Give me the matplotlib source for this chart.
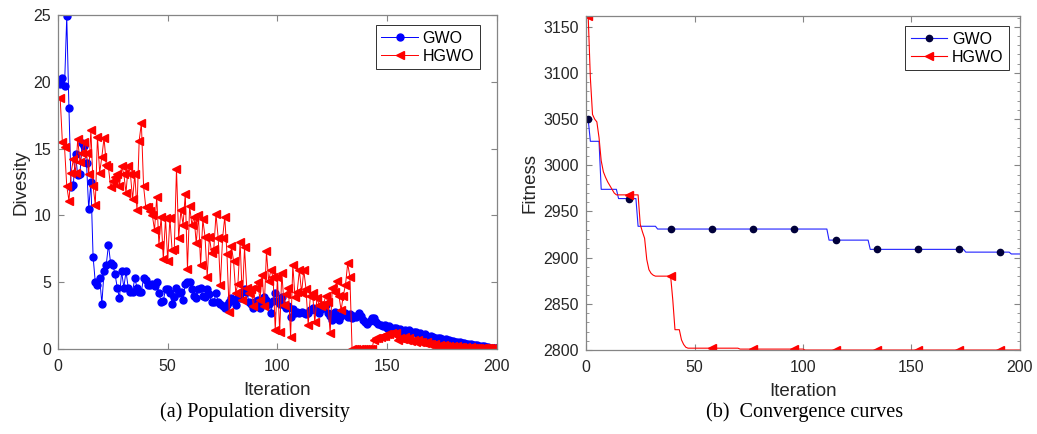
import numpy as np
import matplotlib.pyplot as plt
from matplotlib.ticker import MultipleLocator

plt.rcParams['font.family'] = ['Liberation Sans', 'DejaVu Sans']

iters = np.arange(1, 201)

# (a) population diversity, one value per iteration
gwo_div = [19.8, 20.3, 19.7, 24.9, 18.0, 12.1, 12.3, 14.6, 13.0, 13.1,
           15.4, 15.2, 13.9, 10.5, 12.5, 6.9, 5.0, 4.8, 5.3, 3.4,
           5.8, 6.3, 7.8, 6.4, 6.3, 5.6, 4.6, 3.8, 5.8, 4.6,
           5.8, 4.6, 4.3, 4.3, 5.3, 4.6, 4.3, 4.3, 5.3, 5.2,
           4.8, 4.8, 4.9, 4.7, 5.0, 4.2, 3.5, 3.6, 4.5, 4.5,
           4.2, 3.4, 3.9, 4.6, 4.2, 4.3, 3.7, 4.9, 5.0, 5.0,
           4.5, 4.0, 3.8, 4.5, 4.6, 4.0, 3.9, 4.5, 4.1, 3.5,
           3.5, 4.2, 3.5, 3.4, 3.2, 3.1, 3.3, 3.5, 3.8, 3.7,
           3.3, 3.9, 3.8, 4.3, 4.5, 4.3, 3.5, 3.4, 3.1, 3.6,
           3.7, 3.1, 3.5, 3.9, 3.7, 3.4, 2.7, 3.6, 4.2, 3.6,
           3.4, 3.9, 3.3, 3.1, 3.2, 2.4, 3.0, 2.7, 2.8, 2.7,
           2.8, 2.7, 2.6, 2.7, 2.9, 3.1, 2.9, 3.0, 2.7, 3.0,
           3.1, 3.3, 2.7, 2.5, 2.2, 2.8, 2.5, 2.2, 2.5, 2.7,
           2.7, 2.4, 2.6, 2.3, 2.5, 2.4, 2.7, 2.5, 2.2, 2.0,
           1.9, 2.1, 2.3, 2.3, 2.0, 1.9, 1.8, 1.7, 1.8, 1.6,
           1.7, 1.5, 1.6, 1.6, 1.4, 1.5, 1.3, 1.4, 1.3, 1.4,
           1.2, 1.3, 1.3, 1.1, 1.2, 1.0, 1.1, 1.0, 0.9, 1.0,
           0.9, 0.85, 0.8, 0.85, 0.75, 0.7, 0.75, 0.65, 0.6, 0.6,
           0.55, 0.5, 0.55, 0.45, 0.45, 0.4, 0.4, 0.35, 0.3, 0.32,
           0.28, 0.25, 0.22, 0.2, 0.17, 0.14, 0.11, 0.09, 0.07, 0.05]

hgwo_div = [18.8, 15.5, 15.1, 12.2, 11.1, 13.2, 14.2, 13.2, 15.7, 14.0,
            14.7, 15.5, 14.7, 13.1, 16.4, 12.2, 10.8, 15.9, 13.2, 14.4,
            15.8, 13.8, 13.6, 12.1, 12.6, 12.9, 13.1, 12.2, 13.7, 13.1,
            11.7, 13.7, 13.1, 11.2, 13.1, 10.4, 15.6, 16.9, 12.2, 10.6,
            10.6, 10.3, 10.0, 8.9, 11.4, 7.8, 9.9, 6.7, 9.8, 6.6,
            9.8, 7.4, 7.5, 13.5, 8.3, 10.4, 9.3, 11.6, 6.0, 10.7,
            9.3, 9.9, 7.9, 10.0, 6.3, 9.7, 8.4, 5.4, 8.4, 7.2,
            7.5, 10.1, 8.3, 4.8, 8.3, 9.9, 7.1, 2.8, 7.7, 6.6,
            4.2, 4.9, 8.0, 3.7, 7.6, 4.6, 4.2, 4.5, 3.2, 4.6,
            5.0, 3.7, 5.5, 3.2, 7.3, 5.1, 5.9, 5.4, 1.4, 5.4,
            1.3, 5.7, 3.3, 4.1, 4.6, 0.9, 6.3, 3.9, 4.3, 5.9,
            4.2, 5.9, 4.5, 1.8, 4.0, 4.2, 2.0, 3.8, 3.3, 3.2,
            3.3, 4.0, 3.5, 1.2, 4.6, 4.3, 5.1, 4.0, 2.9, 4.0,
            4.8, 6.4, 5.4, 0.0, 0.0, 0.0, 0.0, 0.0, 0.0, 0.0,
            0.0, 0.0, 0.0, 0.7, 0.8, 0.85, 0.9, 1.0, 1.0, 1.1,
            1.1, 1.2, 1.1, 1.2, 0.7, 0.8, 0.75, 0.9, 0.7, 0.85,
            0.6, 0.7, 0.55, 0.65, 0.5, 0.55, 0.45, 0.5, 0.35, 0.4,
            0.3, 0.35, 0.25, 0.3, 0.2, 0.28, 0.2, 0.25, 0.15, 0.22,
            0.15, 0.2, 0.12, 0.18, 0.1, 0.15, 0.1, 0.12, 0.08, 0.1,
            0.08, 0.1, 0.06, 0.08, 0.05, 0.06, 0.04, 0.05, 0.03, 0.03]

# (b) convergence curves: best fitness levels and how many iterations each lasts
gwo_fit_levels = [3050, 3026, 2974, 2964, 2934, 2931, 2919, 2909, 2906, 2904]
gwo_fit_runs = [1, 5, 8, 9, 9, 79, 19, 44, 21, 5]
hgwo_fit_levels = [3162, 3095, 3055, 3050, 3047, 3030, 3005, 2993, 2987, 2982,
                   2978, 2974, 2970, 2968, 2936, 2928, 2921, 2898, 2887, 2883,
                   2881, 2880, 2854, 2822, 2811, 2806, 2803, 2802, 2801, 2800]
hgwo_fit_runs = [1, 1, 1, 1, 1, 1, 1, 1, 1, 1,
                 1, 1, 1, 11, 1, 1, 1, 1, 1, 1,
                 1, 8, 1, 3, 1, 1, 1, 24, 30, 100]

gwo_fit = np.repeat(gwo_fit_levels, gwo_fit_runs)
hgwo_fit = np.repeat(hgwo_fit_levels, hgwo_fit_runs)

fig = plt.figure(figsize=(10.37, 4.34), dpi=100)
ax1 = fig.add_axes([0.0559, 0.1959, 0.4233, 0.7696])
ax2 = fig.add_axes([0.5651, 0.1935, 0.4185, 0.7703])

for ax in (ax1, ax2):
    for s in ax.spines.values():
        s.set_color('#858585')
        s.set_linewidth(0.9)
    ax.tick_params(direction='in', top=True, right=True, labelsize=11.5,
                   color='#858585', labelcolor='#262626', length=4, pad=5)
    ax.tick_params(axis='x', pad=7)
    ax.set_xlim(0, 200)
    ax.xaxis.set_major_locator(MultipleLocator(50))
    ax.set_xlabel('Iteration', fontsize=13.5, color='#262626', labelpad=6)

ax1.plot(iters, gwo_div, color='#0000ff', lw=0.7, marker='o', ms=5,
         mfc='#0000ff', mec='#0000ff', label='GWO')
ax1.plot(iters, hgwo_div, color='#ff0000', lw=0.7, marker='<', ms=5.5,
         mfc='#ff0000', mec='#ff0000', label='HGWO')
ax1.set_ylim(0, 25)
ax1.yaxis.set_major_locator(MultipleLocator(5))
ax1.set_ylabel('Divesity', fontsize=13.5, color='#262626', labelpad=3)
leg1 = ax1.legend(loc='upper right', bbox_to_anchor=(0.961, 0.970),
                  fancybox=False, edgecolor='#303030', framealpha=1,
                  fontsize=11.5, handlelength=2.3, borderpad=0.35,
                  labelspacing=0.2, handletextpad=0.3, borderaxespad=0)
leg1.get_frame().set_linewidth(0.7)

ax2.plot(iters, gwo_fit, color='#2020ff', lw=0.8, marker='o', ms=4.5,
         mfc='#00003a', mec='#00003a', markevery=19, label='GWO')
ax2.plot(iters, hgwo_fit, color='#ff0000', lw=0.8, marker='<', ms=5.5,
         mfc='#ff0000', mec='#ff0000', markevery=19, label='HGWO')
ax2.set_ylim(2800, 3162)
ax2.yaxis.set_major_locator(MultipleLocator(50))
ax2.yaxis.set_minor_locator(MultipleLocator(10))
ax2.tick_params(axis='y', which='minor', direction='in', left=True, right=True,
                length=2, color='#858585')
ax2.set_ylabel('Fitness', fontsize=13.5, color='#262626', labelpad=4)
leg2 = ax2.legend(loc='upper right', bbox_to_anchor=(0.975, 0.969),
                  fancybox=False, edgecolor='#303030', framealpha=1,
                  fontsize=11.5, handlelength=2.3, borderpad=0.35,
                  labelspacing=0.2, handletextpad=0.3, borderaxespad=0)
leg2.get_frame().set_linewidth(0.7)

fig.text(0.246, 0.05, '(a) Population diversity', ha='center', va='center',
         family='Liberation Serif', fontsize=14.5, color='black')
fig.text(0.776, 0.05, '(b)  Convergence curves', ha='center', va='center',
         family='Liberation Serif', fontsize=14.5, color='black')

fig.savefig('out.png', dpi=100)
